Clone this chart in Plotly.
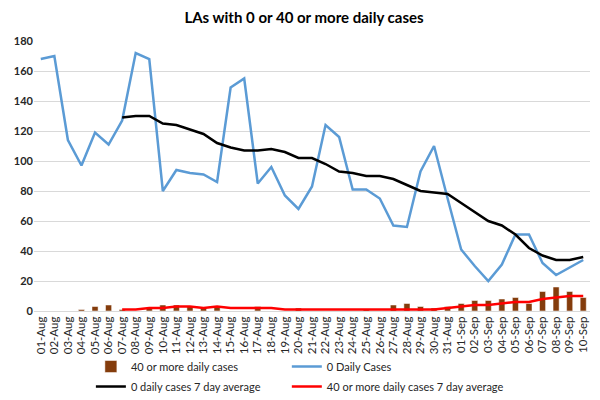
import plotly.graph_objects as go

dates = [f"{d:02d}-Aug" for d in range(1, 32)] + [f"{d:02d}-Sep" for d in range(1, 11)]

# 0 cases per day (blue line)
zero_daily = [168, 170, 114, 97, 119, 111, 127, 172, 168, 80,
              94, 92, 91, 86, 149, 155, 85, 96, 77, 68,
              83, 124, 116, 81, 81, 75, 57, 56, 93, 110,
              75, 41, 30, 20, 31, 51, 51, 32, 24, 29, 34]

# 7 day average of 0 cases (starts 07-Aug)
zero_avg = [None] * 6 + [129, 130, 130, 125, 124, 121, 118, 112, 109, 107,
                         107, 108, 106, 102, 102, 98, 93, 92, 90, 90,
                         88, 84, 80, 79, 78, 72, 66, 60, 57, 51,
                         42, 37, 34, 34, 36]

# 40 or more per day (bars)
forty_daily = [0, 0, 0, 1, 3, 4, 1, 0, 2, 4,
               4, 3, 2, 3, 0, 0, 3, 0, 0, 2,
               0, 0, 0, 0, 1, 0, 4, 5, 3, 2,
               3, 5, 7, 7, 8, 9, 5, 13, 16, 13, 9]

# 7 day average of 40 or more
forty_avg = [None] * 6 + [1, 1, 2, 2, 3, 3, 2, 3, 2, 2,
                          2, 2, 1, 1, 1, 1, 1, 1, 1, 1,
                          1, 1, 1, 1, 2, 3, 4, 4, 5, 6,
                          6, 8, 9, 10, 10]

font = "Lato, Liberation Sans, sans-serif"

fig = go.Figure()
fig.add_trace(go.Bar(x=dates, y=forty_daily, name="40 or more daily cases",
                     marker=dict(color="#843C0C"), legend="legend"))
fig.add_trace(go.Scatter(x=dates, y=zero_daily, name="0 Daily Cases", mode="lines",
                         line=dict(color="#5B9BD5", width=2.5), legend="legend2"))
fig.add_trace(go.Scatter(x=dates, y=zero_avg, name="0 daily cases 7 day average", mode="lines",
                         line=dict(color="#000000", width=2.5), legend="legend3"))
fig.add_trace(go.Scatter(x=dates, y=forty_avg, name="40 or more daily cases 7 day average",
                         mode="lines", line=dict(color="#FF0000", width=2.5), legend="legend4"))

# one small legend per entry so the two columns line up like the original
leg = dict(orientation="h", xref="container", yref="container", xanchor="left",
           yanchor="top", font=dict(size=11, color="#262626"),
           itemwidth=30, bgcolor="rgba(0,0,0,0)")
col1, col2 = 0.14, 0.471
row1, row2 = 0.1224, 0.0714

# page body has an 8px margin, so the figure is drawn 8px smaller
fig.update_layout(
    width=592, height=392,
    template="plotly_white",
    font=dict(family=font, size=11, color="#262626"),
    title=dict(text="<b>LAs with 0 or 40 or more daily cases</b>", x=0.5, xanchor="center",
               y=1 - 10 / 392, yanchor="middle", font=dict(size=15, color="#000000")),
    margin=dict(l=26, r=10, t=33, b=89),
    bargap=0.55,
    plot_bgcolor="white",
    paper_bgcolor="white",
    showlegend=True,
    legend=dict(leg, x=col1, y=row1),
    legend2=dict(leg, x=col2, y=row1),
    legend3=dict(leg, x=col1, y=row2),
    legend4=dict(leg, x=col2, y=row2),
)
fig.update_xaxes(type="category", tickmode="array", tickvals=dates, tickangle=-90,
                 showgrid=False, showline=True,
                 linecolor="#D9D9D9", linewidth=1, ticks="", automargin=False,
                 tickfont=dict(size=11.5, family=font),
                 tickprefix="<b>", ticksuffix="</b>")
fig.update_yaxes(range=[0, 180], dtick=20, gridcolor="#D9D9D9", zeroline=False,
                 showline=False, automargin=False, tickfont=dict(size=11, family=font),
                 tickprefix="<b>", ticksuffix="</b>")

fig.write_html("out.html")
